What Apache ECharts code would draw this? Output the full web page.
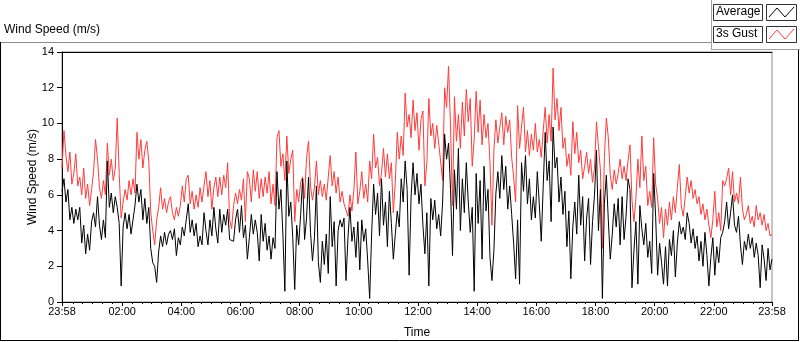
<!DOCTYPE html>
<html>
<head>
<meta charset="utf-8">
<script src="https://cdn.jsdelivr.net/npm/echarts@6.0.0/dist/echarts.min.js"></script>
<style>
  html, body { margin: 0; padding: 0; background: #fff; }
  #chart { width: 800px; height: 342px; }
</style>
</head>
<body>
<div id="chart"></div>
<script>
// samples every 4 minutes, starting 23:58 the day before (minute -2)
const startMinute = -2;
const stepMinutes = 4;

// 3s gust (red), m/s
const gust = [
  7.5, 9.6, 8.2, 7.3, 8.4, 6.6, 7.2, 8.3, 6.5, 7.0, 6.0, 7.5, 5.8, 6.6, 5.4, 6.3, 7.3, 9.1, 8.0, 6.4,
  5.8, 6.8, 6.0, 8.9, 7.1, 8.0, 6.8, 7.5, 10.3, 7.2, 4.7, 5.6, 6.3, 5.7, 6.8, 6.0, 6.9, 6.1, 9.5, 8.0,
  9.1, 7.5, 8.5, 9.0, 7.9, 5.0, 4.0,
  3.2, 4.6, 5.3, 6.4, 5.2, 5.8, 5.0, 5.6, 5.9, 5.0, 4.6, 5.3, 4.8, 5.4, 6.5, 5.6, 6.9, 7.1, 5.5, 6.2,
  5.2, 6.0, 5.3, 6.4, 5.6, 6.5, 7.3, 5.9, 6.8, 5.2, 6.4, 7.0, 5.9, 7.0, 6.0, 7.1, 6.4, 7.8, 4.6, 4.1,
  5.4, 6.1, 5.5, 6.3, 5.7, 6.9, 4.5, 7.3,
  6.9, 5.6, 7.4, 6.2, 7.3, 5.8, 6.9, 5.9, 7.0, 6.1, 7.3, 5.5, 6.6, 5.4, 9.2, 9.6, 7.6, 8.3, 6.8, 9.3,
  7.2, 8.0, 8.5, 4.5, 6.3, 5.6, 6.7, 7.0, 5.8, 8.1, 9.0, 6.5, 5.7, 6.4, 7.9, 6.0, 6.8, 5.9, 6.6, 5.7,
  7.0, 8.2, 6.5, 7.3, 6.1, 7.0, 5.6, 6.2, 5.5,
  5.5, 4.8, 6.0, 5.1, 6.3, 8.4, 5.5, 6.2, 7.3, 5.8, 6.6, 5.6, 7.9, 6.9, 9.4, 7.5, 8.1, 6.5, 7.2, 8.6,
  7.0, 8.3, 6.9, 7.8, 5.0, 6.7, 9.5, 8.0, 9.3, 8.2, 11.7, 9.8, 10.5, 9.2, 11.3, 9.6, 10.6, 8.5, 10.2, 10.7,
  6.5, 7.8, 11.4, 9.3, 10.0, 8.6, 9.9, 8.9,
  8.9, 6.8, 12.0, 10.9, 13.2, 9.8, 5.4, 11.5, 9.0, 10.5, 8.6, 11.2, 9.3, 11.9, 10.1, 11.4, 7.6, 9.1, 11.8, 9.5,
  11.3, 8.8, 10.5, 9.2, 10.0, 7.8, 4.3, 8.5, 10.2, 8.9, 9.8, 10.6, 8.8, 10.4, 9.5, 10.2, 8.1, 7.0, 5.6, 11.0,
  8.6, 9.8, 10.9, 8.4, 9.6, 8.2, 9.4, 8.5,
  10.0, 8.4, 9.1, 8.1, 9.6, 10.9, 8.9, 10.5, 9.0, 13.1, 10.2, 11.4, 9.6, 10.9, 8.6, 9.2, 7.6, 8.3, 7.1, 10.1,
  8.3, 9.5, 7.8, 8.5, 6.9, 7.6, 8.4, 7.2, 8.0, 6.7, 7.5, 10.1, 8.7, 7.4, 3.0, 8.1, 10.3, 9.2, 7.1, 6.3,
  7.4, 6.6, 7.2, 8.0, 6.9, 7.6, 6.8, 7.9,
  8.8, 5.7, 4.5, 5.8, 8.0, 6.4, 9.3, 6.8, 7.6, 5.4, 6.2, 5.3, 9.2, 6.6, 5.8, 4.4, 5.3, 3.6, 5.2, 4.3,
  5.6, 4.6, 5.9, 5.0, 6.4, 7.7, 5.4, 4.8, 5.9, 7.0, 6.1, 6.8, 5.8, 6.3, 5.5, 5.9, 4.9, 5.5, 4.6, 5.2,
  4.3, 3.6, 4.6, 6.2, 4.2, 5.0, 4.0, 6.8,
  6.5, 6.9, 7.5, 6.0, 7.3, 5.6, 6.1, 5.5, 7.0, 5.2, 4.6, 4.9, 5.4, 4.4, 4.8, 4.2, 5.4, 4.6, 5.0, 4.3,
  4.9, 4.0, 4.4, 3.7, 3.8
];

// average (black), m/s
const average = [
  6.2, 6.9, 5.6, 6.3, 4.6, 5.3, 4.4, 5.2, 4.6, 5.3, 3.3, 4.3, 2.7, 3.8, 2.9, 4.5, 5.0, 4.2, 5.9, 4.3,
  3.5, 4.6, 3.6, 7.9, 5.3, 6.1, 5.0, 5.9, 5.3, 4.4, 0.9, 4.2, 5.0, 4.1, 4.9, 3.8, 4.6, 5.4, 6.6, 5.6,
  6.3, 4.6, 5.8, 4.4, 5.3, 3.0, 2.2,
  2.0, 1.1, 2.8, 3.7, 3.1, 3.9, 3.2, 3.8, 4.0, 3.5, 4.1, 2.6, 3.6, 3.2, 4.2, 3.7, 4.6, 5.5, 3.9, 4.6,
  3.7, 4.4, 3.1, 3.7, 3.2, 5.0, 4.0, 3.2, 4.6, 3.7, 5.3, 4.1, 3.3, 5.2, 3.9, 4.9, 4.3, 5.2, 3.5, 3.6,
  3.4, 4.6, 5.2, 3.9, 5.4, 3.6, 4.3, 2.4,
  3.6, 4.9, 3.8, 4.6, 3.9, 2.3, 4.9, 3.4, 4.4, 2.9, 3.7, 2.4, 3.6, 3.0, 7.3, 5.2, 6.3, 3.8, 0.6, 7.9,
  4.8, 5.6, 3.6, 0.7, 4.3, 3.2, 4.9, 6.9, 3.5, 4.7, 7.0, 3.9, 2.3, 3.6, 6.5, 2.2, 1.1, 3.4, 2.1, 3.8,
  1.6, 5.9, 3.1, 4.5, 0.9, 4.0, 4.6, 4.2, 4.7,
  1.2, 3.6, 5.3, 3.4, 4.2, 2.5, 4.5, 1.8, 4.6, 3.4, 4.1, 2.3, 0.2, 3.8, 6.6, 4.9, 6.1, 3.7, 6.9, 4.3,
  5.6, 3.1, 6.2, 4.4, 2.4, 3.8, 5.1, 4.2, 6.9, 5.6, 7.9, 6.3, 1.5, 5.9, 7.8, 6.0, 7.2, 5.5, 6.6, 4.3,
  2.7, 5.0, 0.9, 5.8, 4.6, 5.7, 4.1, 4.9,
  3.7, 5.6, 9.4, 8.0, 8.9, 6.3, 2.6, 7.4, 5.2, 8.6, 4.0, 6.9, 5.0, 7.8, 5.6, 3.9, 5.3, 0.6, 7.2, 4.4,
  6.8, 2.4, 7.6, 5.1, 6.3, 2.5, 1.2, 2.9, 6.1, 7.3, 5.8, 8.2, 6.3, 7.6, 5.2, 6.5, 4.9, 3.3, 1.3, 4.6,
  1.0, 7.8, 6.2, 8.2, 5.5, 6.9, 4.6, 5.9,
  4.7, 7.3, 5.5, 3.4, 6.5, 9.5, 6.8, 7.9, 4.5, 9.8, 7.5, 8.1, 5.6, 7.0, 4.9, 6.2, 3.1, 5.1, 1.3, 4.2,
  5.6, 3.8, 7.1, 4.3, 5.9, 2.3, 4.7, 5.8, 2.1, 4.5, 6.0, 8.5, 4.0, 6.3, 0.2, 5.5, 7.1, 4.6, 2.4, 3.8,
  5.5, 4.2, 5.8, 3.2, 5.9, 3.5, 4.8, 6.9,
  6.3, 0.8, 2.9, 4.5, 1.0, 5.4, 4.1, 3.2, 4.4, 2.5, 3.4, 1.6, 7.2, 4.8, 1.5, 3.3, 2.2, 1.0, 3.1, 0.9,
  3.5, 2.6, 4.0, 1.4, 3.3, 4.5, 3.8, 4.2, 3.5, 5.0, 4.4, 3.3, 4.1, 3.0, 3.7, 2.3, 3.4, 2.0, 3.9, 2.6,
  0.9, 2.5, 3.6, 1.5, 3.1, 2.2, 3.6, 3.9,
  4.5, 5.6, 4.1, 5.0, 6.0, 4.3, 3.9, 4.8, 3.2, 2.1, 3.4, 2.9, 3.8, 3.0, 3.6, 2.5, 3.3, 2.6, 0.8, 3.2,
  2.4, 1.2, 3.0, 1.8, 2.4
];

// x axis: labelled ticks (minutes from midnight) and minor ticks every 20 min
const labelTicks = [-2, 120, 240, 360, 480, 600, 720, 840, 960, 1080, 1200, 1320, 1438];
const minorTicks = [];
for (let m = 20; m < 1438; m += 20) minorTicks.push(m);

const yMin = 0, yMax = 14, yStep = 2;
const FONT = 'Liberation Sans';

function fmtTime(v) {
  if (v < 0 || v >= 1438) return '23:58';
  const h = Math.floor(v / 60), m = v % 60;
  return String(h).padStart(2, '0') + ':' + String(m).padStart(2, '0');
}

const toPairs = arr => arr.map((v, i) => [startMinute + i * stepMinutes, v]);

const chart = echarts.init(document.getElementById('chart'), null, { renderer: 'canvas' });

const option = {
  animation: false,
  textStyle: { fontFamily: FONT, color: '#000' },
  grid: {
    left: 62, top: 52, right: 28, bottom: 40, outerBoundsMode: 'none', containLabel: false,
    show: true, borderColor: '#8c8c8c', borderWidth: 1
  },
  xAxis: [
    {
      type: 'value', min: -2, max: 1438, position: 'bottom',
      axisLine: { show: true, onZero: false, lineStyle: { color: '#000' } },
      axisTick: { show: true, customValues: labelTicks, length: 4, lineStyle: { color: '#000' } },
      axisLabel: { customValues: labelTicks, formatter: fmtTime, color: '#000', fontSize: 11, margin: 4 },
      splitLine: { show: false },
      name: 'Time', nameLocation: 'middle', nameGap: 25, nameMoveOverlap: false,
      nameTextStyle: { color: '#000', fontSize: 12, fontFamily: FONT }
    },
    {
      type: 'value', min: -2, max: 1438, position: 'bottom',
      axisLine: { show: false },
      axisTick: { show: true, customValues: minorTicks, length: 2, lineStyle: { color: '#000' } },
      axisLabel: { show: false },
      splitLine: { show: false }
    },
    {
      type: 'value', min: -2, max: 1438, position: 'top',
      axisLine: { show: true, onZero: false, lineStyle: { color: '#000' } },
      axisTick: { show: false }, axisLabel: { show: false }, splitLine: { show: false }
    }
  ],
  yAxis: {
    type: 'value', min: yMin, max: yMax, interval: yStep,
    axisLine: { show: true, onZero: false, lineStyle: { color: '#000' } },
    axisTick: { show: true, length: 5, lineStyle: { color: '#000' } },
    axisLabel: { color: '#000', fontSize: 11, margin: 8 },
    splitLine: { show: false },
    name: 'Wind Speed (m/s)', nameLocation: 'middle', nameGap: 23, nameMoveOverlap: false,
    nameTextStyle: { color: '#000', fontSize: 12, fontFamily: FONT }
  },
  series: [
    {
      name: '3s Gust', type: 'line', data: toPairs(gust), showSymbol: false,
      lineStyle: { color: '#ff3b3b', width: 1 }, itemStyle: { color: '#ff3b3b' }, z: 2
    },
    {
      name: 'Average', type: 'line', data: toPairs(average), showSymbol: false,
      lineStyle: { color: '#000', width: 1 }, itemStyle: { color: '#000' }, z: 3
    }
  ],
  graphic: [
    // outer panel frame
    { type: 'line', shape: { x1: 0, y1: 42.5, x2: 711, y2: 42.5 }, style: { stroke: '#8c8c8c', lineWidth: 1 } },
    { type: 'line', shape: { x1: 0.5, y1: 42, x2: 0.5, y2: 341 }, style: { stroke: '#000', lineWidth: 1 } },
    { type: 'line', shape: { x1: 0, y1: 340.5, x2: 799, y2: 340.5 }, style: { stroke: '#000', lineWidth: 1 } },
    { type: 'line', shape: { x1: 798.5, y1: 49, x2: 798.5, y2: 341 }, style: { stroke: '#000', lineWidth: 1 } },
    // title
    { type: 'text', left: 4, top: 24, style: { text: 'Wind Speed (m/s)', fill: '#000', font: '12px ' + FONT } },
    // legend panel
    { type: 'line', shape: { x1: 711.5, y1: 0, x2: 711.5, y2: 49 }, style: { stroke: '#a0a0a0', lineWidth: 1 } },
    { type: 'line', shape: { x1: 711, y1: 49.5, x2: 800, y2: 49.5 }, style: { stroke: '#a0a0a0', lineWidth: 1 } },
    { type: 'rect', shape: { x: 713.5, y: 4.5, width: 49, height: 16 }, style: { fill: '#fff', stroke: '#333', lineWidth: 1 } },
    { type: 'text', x: 716, y: 6, style: { text: 'Average', fill: '#000', font: '12px ' + FONT } },
    { type: 'rect', shape: { x: 766.5, y: 4.5, width: 30, height: 16 }, style: { fill: '#fff', stroke: '#333', lineWidth: 1 } },
    { type: 'polyline', shape: { points: [[769, 17], [777, 8], [785, 17], [794, 7]] }, style: { stroke: '#000', lineWidth: 1, fill: null } },
    { type: 'rect', shape: { x: 713.5, y: 26.5, width: 49, height: 16 }, style: { fill: '#fff', stroke: '#333', lineWidth: 1 } },
    { type: 'text', x: 716, y: 28, style: { text: '3s Gust', fill: '#000', font: '12px ' + FONT } },
    { type: 'rect', shape: { x: 766.5, y: 26.5, width: 30, height: 16 }, style: { fill: '#fff', stroke: '#333', lineWidth: 1 } },
    { type: 'polyline', shape: { points: [[769, 39], [777, 30], [785, 39], [794, 29]] }, style: { stroke: '#ff3b3b', lineWidth: 1, fill: null } }
  ]
};

chart.setOption(option);
</script>
</body>
</html>
